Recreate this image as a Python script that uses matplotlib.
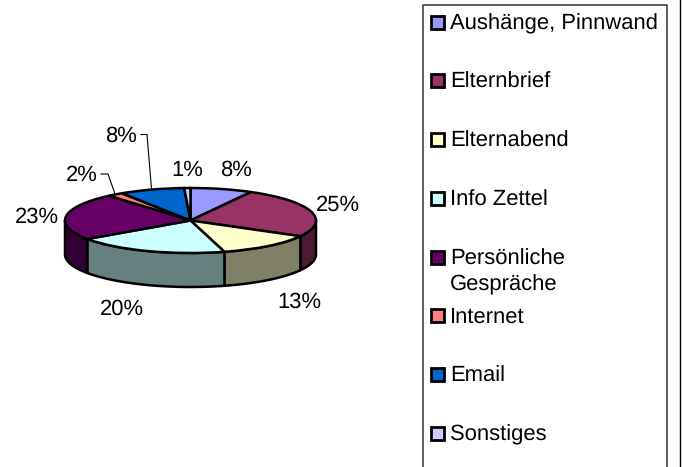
import numpy as np
import matplotlib
matplotlib.use("Agg")
import matplotlib.pyplot as plt
from matplotlib.patches import Rectangle, Polygon

plt.rcParams['font.family'] = ['Liberation Sans', 'DejaVu Sans']
plt.rcParams['text.hinting'] = 'no_hinting'
plt.rcParams['text.hinting_factor'] = 1

categories = ["Aushänge, Pinnwand", "Elternbrief", "Elternabend", "Info Zettel",
              "Persönliche\nGespräche", "Internet", "Email", "Sonstiges"]
values = [8.0, 25.0, 12.6, 19.7, 23.4, 2.0, 8.4, 0.8]
colors = ["#9999FF", "#993366", "#FFFFCC", "#CCFFFF", "#660066", "#FF8080", "#0066CC", "#CCCCFF"]

W, H = 682, 467
CX, CY, RX, RY, DEPTH = 190.5, 220.5, 125.5, 32.5, 34.0
FS = 16.2
FS_LEG = 16.2
LW = 1.8

fig = plt.figure(figsize=(W / 100, H / 100), dpi=100, facecolor="white")
ax = fig.add_axes([0, 0, 1, 1])
ax.set_xlim(-CX / RX, (W - CX) / RX)
ax.set_ylim((CY - H) / RY, CY / RY)
ax.set_aspect("auto")

# side walls
d = DEPTH / RY
total = sum(values)
edges = np.cumsum([0] + values) / total * 2 * np.pi
for i in range(len(values)):
    a0, a1 = edges[i], edges[i + 1]
    lo, hi = max(a0, np.pi / 2), min(a1, 3 * np.pi / 2)
    if hi <= lo:
        continue
    t = np.linspace(lo, hi, 80)
    x, y = np.sin(t), np.cos(t)
    pts = np.r_[np.c_[x, y], np.c_[x[::-1], y[::-1] - d]]
    dark = tuple(0.5 * c for c in matplotlib.colors.to_rgb(colors[i]))
    ax.add_patch(Polygon(pts, closed=True, facecolor=dark, edgecolor="black", lw=LW, joinstyle="round"))

# top face
ax.pie(values, colors=colors, startangle=90, counterclock=False, radius=1, center=(0, 0),
       frame=True, wedgeprops=dict(edgecolor="black", linewidth=LW))
ax.set_xlim(-CX / RX, (W - CX) / RX)
ax.set_ylim((CY - H) / RY, CY / RY)
ax.set_aspect("auto")
ax.axis("off")


def px(x, y):
    return x / W, 1 - y / H


# percent labels (x, y in pixels)
label_pos = [(235.5, 170.5), (338, 205), (299.5, 302), (122, 309), (37, 217), (82, 175), (121, 136), (187.5, 170.5)]
for v, (x, y) in zip(values, label_pos):
    fx, fy = px(x, y)
    fig.text(fx, fy, f"{round(v)}%", ha="center", va="center", fontsize=FS, color="black")

# leader lines
for xs, ys in [((141, 147, 151.5), (134.5, 134.5, 189)), ((101, 108, 115), (174, 174, 194))]:
    fig.add_artist(plt.Line2D([a / W for a in xs], [1 - b / H for b in ys], color="black", lw=0.8))

# legend frame
fig.add_artist(plt.Line2D([422.5 / W, 422.5 / W, 667 / W, 667 / W],
                          [0, 1 - 4.5 / H, 1 - 4.5 / H, 0], color="#333333", lw=1.1))
fig.add_artist(plt.Line2D([680 / W, 680 / W], [0, 1], color="black", lw=1.0))

legend_y = [22, 80, 139, 198, 257, 315, 374, 433]
for name, col, y in zip(categories, colors, legend_y):
    fig.add_artist(Rectangle((430.8 / W, 1 - (y + 6.5) / H), 13 / W, 13 / H, transform=fig.transFigure,
                             facecolor=col, edgecolor="black", lw=2.0))
    fig.text(450 / W, 1 - (y - 8.5) / H, name, ha="left", va="top", fontsize=FS_LEG, color="black",
             linespacing=1.33)

fig.savefig("out.png", dpi=100)
